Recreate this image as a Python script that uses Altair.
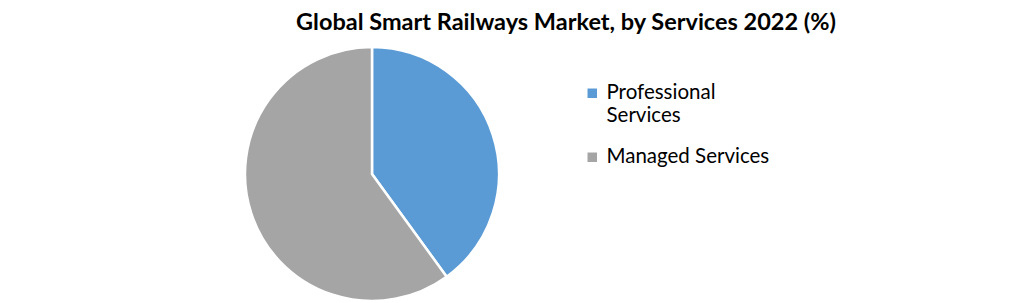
import altair as alt
import pandas as pd

categories = ["Professional Services", "Managed Services"]
shares = [40, 60]
colors = ["#5B9BD5", "#A5A5A5"]

df = pd.DataFrame({"service": categories, "share": shares, "order": [0, 1]})

chart = alt.Chart(df).mark_arc(
    radius=127, stroke="white", strokeWidth=2.5
).encode(
    theta=alt.Theta("share:Q", stack=True),
    order=alt.Order("order:Q"),
    color=alt.Color(
        "service:N",
        sort=categories,
        scale=alt.Scale(domain=categories, range=colors),
        legend=alt.Legend(
            title=None,
            orient="none",
            legendX=582,
            legendY=83,
            symbolType="square",
            symbolSize=90,
            symbolStrokeWidth=0,
            labelFont="Lato",
            labelFontSize=20.5,
            labelColor="#000000",
            labelLimit=300,
            labelOffset=4,
            rowPadding=20,
            labelExpr="datum.label == 'Professional Services' ? ['Professional', 'Services'] : datum.label",
        ),
    ),
    x=alt.value(372),
    y=alt.value(174),
).properties(
    width=1020,
    height=303,
    autosize=alt.AutoSizeParams(type="none"),
    padding=0,
    title=alt.TitleParams(
        "Global Smart Railways Market, by Services 2022 (%)",
        font="Lato",
        fontSize=23.5,
        fontWeight="bold",
        color="#000000",
        anchor="middle",
        dx=56,
        offset=-34,
    ),
).configure_view(stroke=None)

chart.save("out.html", embed_options={"renderer": "svg", "actions": False})
